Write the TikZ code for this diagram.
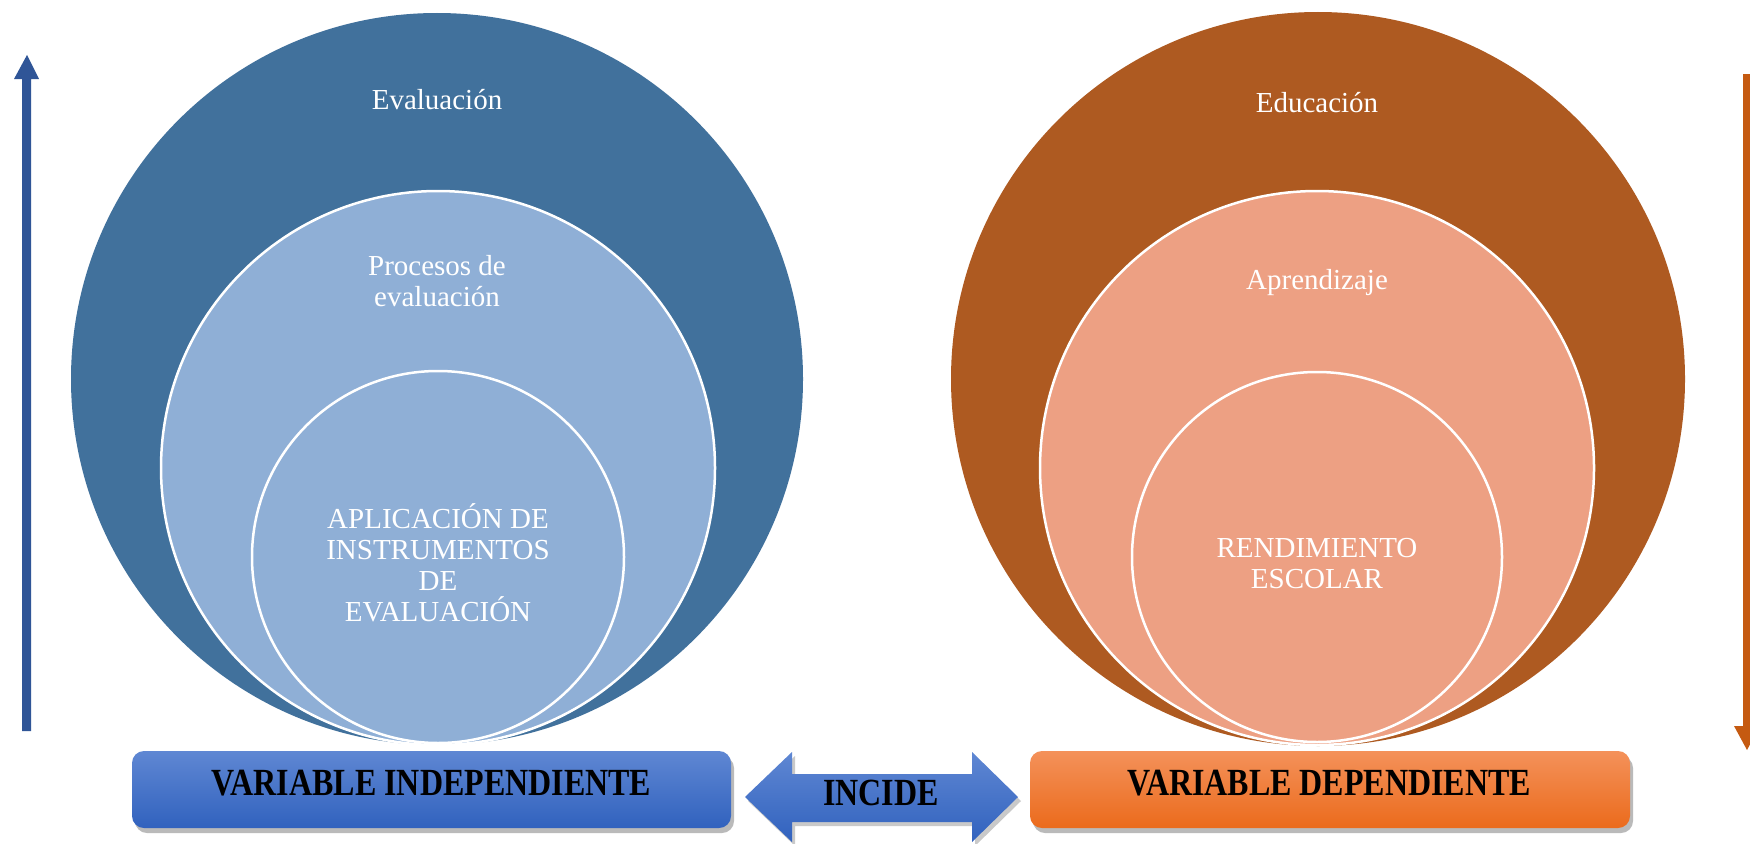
\documentclass[tikz,border=0pt]{standalone}
\usepackage{fontspec}
\setmainfont{Liberation Serif}
\usetikzlibrary{shadows}
\definecolor{bigL}{HTML}{41719C}
\definecolor{lightL}{HTML}{8FAFD6}
\definecolor{bigR}{HTML}{AE5A21}
\definecolor{lightR}{HTML}{EDA083}
\definecolor{arrL}{HTML}{2F5597}
\definecolor{arrR}{HTML}{C55A11}
\definecolor{blueTop}{HTML}{5F87D3}
\definecolor{blueBot}{HTML}{3162BE}
\definecolor{orTop}{HTML}{F4915A}
\definecolor{orBot}{HTML}{EB6B1C}
\tikzset{
  ring/.style={circle, inner sep=0pt, draw=white, line width=2.5pt},
  ctext/.style={text=white, align=center, font=\fontsize{29}{31}\selectfont, inner sep=0pt},
  vbox/.style={rounded corners=12pt, minimum height=77pt, inner sep=0pt,
     drop shadow={shadow xshift=3pt, shadow yshift=-5pt, opacity=0.45, fill=black!60}},
  btext/.style={text=black, font=\bfseries\fontsize{32}{34}\selectfont, inner sep=0pt}
}
\begin{document}
\begin{tikzpicture}[x=1pt,y=-1pt]
\fill[white] (0,0) rectangle (1750,843);
\useasboundingbox (0,0) rectangle (1750,843);
\clip (0,0) rectangle (1750,843);

% vertical arrows
\fill[arrL] (22,731) -- (22,79) -- (14,79) -- (27,55) -- (39,79) -- (31,79) -- (31,731) -- cycle;
\fill[arrR] (1743,74) -- (1743,726) -- (1734,726) -- (1747,750) -- (1760,726) -- (1751,726) -- (1751,74) -- cycle;

% left circles
\node[circle, inner sep=0pt, fill=bigL, minimum size=732pt] (evalc) at (437,379) {};
\node[ring, fill=lightL, minimum size=554pt] (procc) at (438,468) {};
\node[ring, fill=lightL, minimum size=372pt] (aplic) at (438,557) {};
\node[ctext] (evalt) at (437,100) {Evaluación};
\node[ctext] (proct) at (437,281) {Procesos de\\evaluación};
\node[ctext] (aplit) at (438,563) {APLICACIÓN DE\\INSTRUMENTOS\\DE\\EVALUACIÓN};

% right circles
\node[circle, inner sep=0pt, fill=bigR, minimum size=734pt] (educc) at (1318,379) {};
\node[ring, fill=lightR, minimum size=554pt] (aprec) at (1317,468) {};
\node[ring, fill=lightR, minimum size=370pt] (rendc) at (1317,557) {};
\node[ctext] (eduat) at (1317,103) {Educación};
\node[ctext] (apret) at (1317,283) {Aprendizaje};
\node[ctext] (rendt) at (1317,564) {RENDIMIENTO\\ESCOLAR};

% bottom boxes
\node[vbox, top color=blueTop, bottom color=blueBot, minimum width=599pt] (vind) at (431.5,789.5) {};
\node[btext] (vindt) at (431.5,783) {\scalebox{1}[1.2]{VARIABLE INDEPENDIENTE}};
\node[vbox, top color=orTop, bottom color=orBot, minimum width=600pt] (vdep) at (1330,789.5) {};
\node[btext] (vdept) at (1329,783) {\scalebox{1}[1.2]{VARIABLE DEPENDIENTE}};

% double arrow
\shade[top color=blueTop, bottom color=blueBot, drop shadow={shadow xshift=3pt, shadow yshift=-4pt, opacity=0.35, fill=black!60}]
  (745,797) -- (792,752) -- (792,774) -- (972,774) -- (972,752) -- (1018,797)
  -- (972,842) -- (972,822) -- (792,822) -- (792,842) -- cycle;
\node[btext] (incide) at (881,793) {\scalebox{1}[1.2]{INCIDE}};
\end{tikzpicture}
\end{document}
